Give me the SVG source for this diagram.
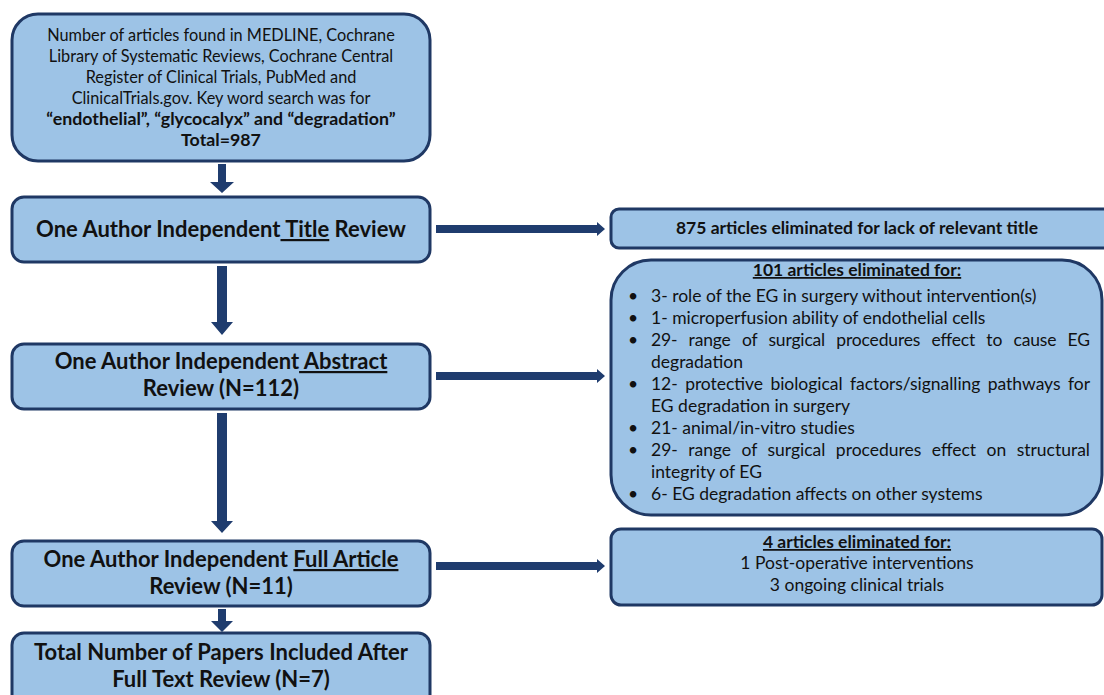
<svg xmlns="http://www.w3.org/2000/svg" width="1104" height="695" viewBox="0 0 1104 695">
<style>
.box{fill:#9dc3e6;stroke:#1f3864;stroke-width:3}
.t{font-family:Lato,"Liberation Sans",sans-serif;fill:#111;text-anchor:middle}
.r{font-size:16.3px}
.rb{font-size:17.8px;font-weight:bold}
.b{font-weight:bold}
.big{font-size:22px}
.sm{font-size:17.5px}
.li{font-family:Lato,"Liberation Sans",sans-serif;fill:#111;font-size:17.5px}
.u{text-decoration:underline}
.arr{fill:#1f3c6e}
</style>
<rect width="1104" height="695" fill="#ffffff"/>
<g id="connectors">
<polygon class="arr" points="218,164 226,164 226,182 234,182 222,193 210,182 218,182"/>
<polygon class="arr" points="217,266 227,266 227,322 233,322 222,335 211,322 217,322"/>
<polygon class="arr" points="217,413 227,413 227,521 233,521 222,533 211,521 217,521"/>
<polygon class="arr" points="218,609 226,609 226,621 233,621 222,632 211,621 218,621"/>
<polygon class="arr" points="436,225 597,225 597,222 605,229 597,236 597,233 436,233"/>
<polygon class="arr" points="436,372 597,372 597,369 605,376 597,383 597,380 436,380"/>
<polygon class="arr" points="436,562 597,562 597,559 605,566 597,573 597,570 436,570"/>
</g>
<g id="n1">
<rect class="box" x="12" y="14" width="418" height="147" rx="26"/>
<text class="t r" x="221" y="41">Number of articles found in MEDLINE, Cochrane</text>
<text class="t r" x="221" y="62">Library of Systematic Reviews, Cochrane Central</text>
<text class="t r" x="221" y="83">Register of Clinical Trials, PubMed and</text>
<text class="t r" x="221" y="104">ClinicalTrials.gov. Key word search was for</text>
<text class="t rb" x="221" y="125">“endothelial”, “glycocalyx” and “degradation”</text>
<text class="t rb" x="221" y="146">Total=987</text>
</g>
<g id="n2">
<rect class="box" x="12" y="197" width="418" height="65" rx="12"/>
<text class="t b big" x="221" y="237">One Author Independent<tspan class="u"> Title</tspan> Review</text>
</g>
<g id="n3">
<rect class="box" x="12" y="344" width="418" height="65" rx="12"/>
<text class="t b big" x="221" y="369">One Author Independent<tspan class="u"> Abstract</tspan></text>
<text class="t b big" x="221" y="396">Review (N=112)</text>
</g>
<g id="n4">
<rect class="box" x="12" y="541" width="418" height="65" rx="12"/>
<text class="t b big" x="221" y="567">One Author Independent <tspan class="u">Full Article</tspan></text>
<text class="t b big" x="221" y="594">Review (N=11)</text>
</g>
<g id="n5">
<rect class="box" x="12" y="633" width="418" height="80" rx="12"/>
<text class="t b big" x="221" y="660">Total Number of Papers Included After</text>
<text class="t b big" x="221" y="687">Full Text Review (N=7)</text>
</g>
<g id="n6">
<rect class="box" x="611" y="209" width="505" height="39" rx="8"/>
<text class="t b sm" x="857" y="234">875 articles eliminated for lack of relevant title</text>
</g>
<g id="n7">
<rect class="box" x="611" y="260" width="491" height="255" rx="40"/>
<text class="t b sm u" x="857" y="276">101 articles eliminated for:</text>
<g class="li">
<text x="628" y="302">•</text><text x="651" y="302">3- role of the EG in surgery without intervention(s)</text>
<text x="628" y="324">•</text><text x="651" y="324">1- microperfusion ability of endothelial cells</text>
<text x="628" y="346">•</text><text x="651" y="346" word-spacing="7" textLength="439" lengthAdjust="spacing">29- range of surgical procedures effect to cause EG</text>
<text x="651" y="368">degradation</text>
<text x="628" y="390">•</text><text x="651" y="390" word-spacing="3" textLength="439" lengthAdjust="spacing">12- protective biological factors/signalling pathways for</text>
<text x="651" y="412">EG degradation in surgery</text>
<text x="628" y="434">•</text><text x="651" y="434">21- animal/in-vitro studies</text>
<text x="628" y="456">•</text><text x="651" y="456" word-spacing="6" textLength="439" lengthAdjust="spacing">29- range of surgical procedures effect on structural</text>
<text x="651" y="478">integrity of EG</text>
<text x="628" y="500">•</text><text x="651" y="500">6- EG degradation affects on other systems</text>
</g>
</g>
<g id="n8">
<rect class="box" x="611" y="529" width="491" height="76" rx="10"/>
<text class="t b sm u" x="857" y="548">4 articles eliminated for:</text>
<text class="t sm" x="857" y="569">1 Post-operative interventions</text>
<text class="t sm" x="857" y="591">3 ongoing clinical trials</text>
</g>
</svg>
